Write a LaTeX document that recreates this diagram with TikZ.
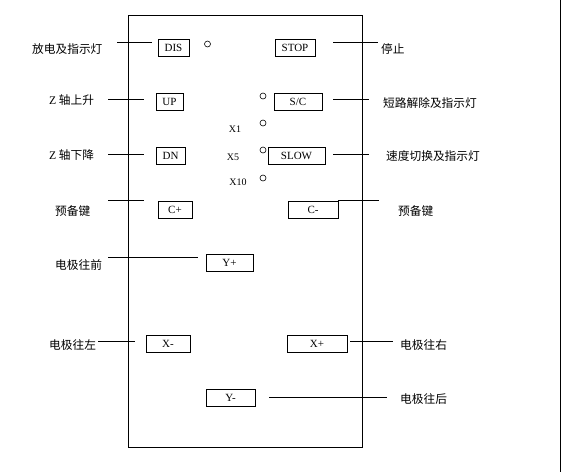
\documentclass[tikz,border=0pt]{standalone}
\usepackage{fontspec}
\setmainfont{Liberation Serif}
\newfontfamily\cjk{Noto Sans CJK SC}
\usetikzlibrary{calc}

\begin{document}
\begin{tikzpicture}[
  x=1pt, y=-1pt,
  key/.style={draw, line width=0.8pt, minimum width=#1, minimum height=17pt,
    inner sep=0pt, font=\fontsize{11}{12}\selectfont},
  lamp/.style={draw, circle, line width=0.6pt, minimum size=6pt, inner sep=0pt},
  note/.style={anchor=west, inner sep=0pt, font=\fontsize{11.7}{13}\selectfont\cjk},
  mag/.style={inner sep=0pt, font=\fontsize{10}{11}\selectfont},
  lead/.style={line width=0.8pt}
]
\useasboundingbox (0,0) rectangle (562,472);
% panel and page edge
\node[draw, line width=0.8pt, minimum width=234pt, minimum height=432pt,
  inner sep=0pt] (panel) at (245,231) {};
\draw[lead] (560,0) -- (560,472);

% keys
\node[key=31pt] (dis) at (173.5,47.5) {DIS};
\node[key=40pt] (stop) at (295,47.5) {STOP};
\node[key=27pt] (up) at (169.5,102) {UP};
\node[key=48pt] (sc) at (298,102) {S/C};
\node[key=29pt] (dn) at (170.5,155.5) {DN};
\node[key=57pt] (slow) at (296.5,155.5) {SLOW};
\node[key=34pt] (cplus) at (175,209.5) {C+};
\node[key=50pt] (cminus) at (313,209.5) {C-};
\node[key=47pt] (yplus) at (229.5,263) {Y+};
\node[key=44pt] (xminus) at (168,344) {X-};
\node[key=60pt] (xplus) at (317,344) {X+};
\node[key=49pt] (yminus) at (230.5,398) {Y-};

% lamps and speed marks
\node[lamp] (disled) at (207.5,44) {};
\node[lamp] (scled) at (263,96) {};
\node[lamp] (x1led) at (263,123) {};
\node[lamp] (x5led) at (263,150) {};
\node[lamp] (x10led) at (263,178) {};
\node[mag] (x1) at (235,129) {X1};
\node[mag] (x5) at (233,157) {X5};
\node[mag] (x10) at (238,182) {X10};

% captions
\node[note] (distxt) at (32,49) {放电及指示灯};
\node[note] (uptxt) at (49,100) {{\rmfamily Z} 轴上升};
\node[note] (dntxt) at (49,155) {{\rmfamily Z} 轴下降};
\node[note] (cplustxt) at (55,211) {预备键};
\node[note] (yplustxt) at (55,265) {电极往前};
\node[note] (xminustxt) at (49,345) {电极往左};
\node[note] (stoptxt) at (381,49) {停止};
\node[note] (sctxt) at (383,103) {短路解除及指示灯};
\node[note] (slowtxt) at (386,156) {速度切换及指示灯};
\node[note] (cminustxt) at (398,211) {预备键};
\node[note] (xplustxt) at (400,345) {电极往右};
\node[note] (yminustxt) at (400,399) {电极往后};

% leader lines
\draw[lead] ($(dis.west)+(-6,-5.5)$) -- ++(-35,0);
\draw[lead] ($(up.west)+(-12,-3)$) -- ++(-36,0);
\draw[lead] ($(dn.west)+(-12,-1.5)$) -- ++(-36,0);
\draw[lead] ($(cplus.north west)+(-14,0)$) -- ++(-36,0);
\draw[lead] ($(yplus.west)+(-8,-6)$) -- ++(-90,0);
\draw[lead] ($(xminus.west)+(-11,-3)$) -- ++(-37,0);
\draw[lead] ($(stop.east)+(18,-5.5)$) -- ++(45,0);
\draw[lead] ($(sc.east)+(11,-3)$) -- ++(36,0);
\draw[lead] ($(slow.east)+(8,-1.5)$) -- ++(36,0);
\draw[lead] (cminus.north east) -- ++(41,0);
\draw[lead] ($(xplus.east)+(3,-3)$) -- ++(43,0);
\draw[lead] ($(yminus.east)+(14,-1)$) -- ++(118,0);
\end{tikzpicture}
\end{document}
